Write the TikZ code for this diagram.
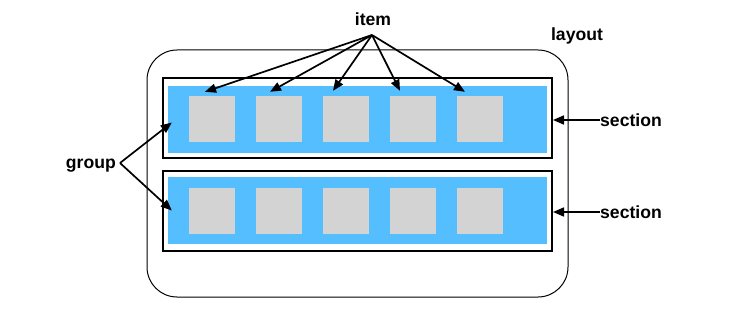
\documentclass[tikz,border=0pt]{standalone}
\usepackage{fontspec}
\setmainfont{Liberation Sans}
\usetikzlibrary{arrows.meta,calc}
\definecolor{secblue}{RGB}{85,190,255}
\definecolor{itemgray}{RGB}{211,211,211}
\tikzset{
  layoutbox/.style={draw=black,line width=1pt,rounded corners=30pt,minimum width=421pt,minimum height=247pt,inner sep=0pt},
  sectionbox/.style={draw=black,line width=2pt,minimum width=389pt,minimum height=80pt,inner sep=0pt},
  groupbox/.style={fill=secblue,minimum width=379pt,minimum height=67pt,inner sep=0pt},
  itembox/.style={fill=itemgray,minimum width=46pt,minimum height=46pt,inner sep=0pt},
  lbl/.style={font=\bfseries\fontsize{17.6}{20}\selectfont,inner sep=0pt},
  arr/.style={line width=1.7pt,-{Triangle[length=11pt,width=9pt]}},
}
\begin{document}
\begin{tikzpicture}[x=1pt,y=-1pt]
\useasboundingbox (0,0) rectangle (746,318);
\node[layoutbox] (layout) at (357.5,173.5) {};
\node[sectionbox] (sec1) at (357.5,118) {};
\node[sectionbox] (sec2) at (357.5,210.5) {};
\node[groupbox] (grp1) at (357.5,119.5) {};
\node[groupbox] (grp2) at (357.5,210.5) {};
\foreach \i/\x in {1/212,2/279,3/346,4/413,5/480}{
  \node[itembox] (a\i) at (\x,119) {};
  \node[itembox] (b\i) at (\x,211) {};
}
\node[lbl,anchor=base] (item) at (373,26) {item};
\coordinate (ihub) at (372,35);
\node[lbl,anchor=base] (layoutlbl) at (577,41) {layout};
\node[lbl,anchor=base east] (group) at (116,168) {group};
\coordinate (ghub) at (120,163);
\node[lbl,anchor=base west] (s1) at (600,126) {section};
\node[lbl,anchor=base west] (s2) at (600,218) {section};
% item arrows
\coordinate (t1) at ($(a1.north)+(-7,-4)$);
\coordinate (t2) at ($(a2.north)+(-9,-4)$);
\coordinate (t3) at ($(a3.north)+(-13,-5)$);
\coordinate (t4) at ($(a4.north)+(-13,-5)$);
\coordinate (t5) at ($(a5.north)+(-15,-4)$);
\foreach \i in {1,...,5}{
  \draw[arr] (ihub) -- (t\i);
}
% group arrows
\coordinate (g1) at ($(grp1.west)+(4,3)$);
\coordinate (g2) at ($(grp2.west)+(4,0)$);
\draw[arr] (ghub) -- (g1);
\draw[arr] (ghub) -- (g2);
% section arrows
\coordinate (s1t) at (s1.west |- 0,120);
\coordinate (s2t) at (s2.west |- 0,212);
\draw[arr] (s1t) -- (s1t -| sec1.east);
\draw[arr] (s2t) -- (s2t -| sec2.east);
\end{tikzpicture}
\end{document}
